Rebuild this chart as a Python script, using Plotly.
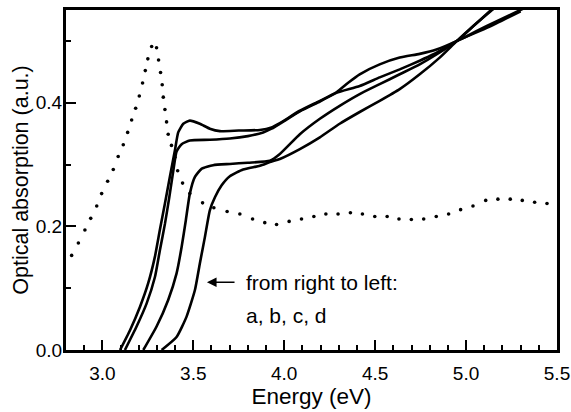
import plotly.graph_objects as go

# Dotted reference curve
dot_x = [2.831, 2.868, 2.904, 2.936, 2.969, 2.996, 3.029, 3.06, 3.087, 3.115, 3.139, 3.161,
         3.183, 3.203, 3.221, 3.236, 3.25, 3.271, 3.298, 3.309, 3.32, 3.329, 3.335, 3.344,
         3.353, 3.362, 3.38, 3.399, 3.414, 3.441, 3.481, 3.551, 3.613, 3.686, 3.756, 3.826,
         3.893, 3.958, 4.027, 4.095, 4.163, 4.229, 4.296, 4.364, 4.43, 4.498, 4.566, 4.631,
         4.699, 4.767, 4.836, 4.904, 4.97, 5.038, 5.108, 5.175, 5.243, 5.309, 5.377, 5.445]
dot_y = [0.153, 0.173, 0.194, 0.213, 0.233, 0.253, 0.273, 0.292, 0.313, 0.332, 0.352, 0.372,
         0.391, 0.411, 0.432, 0.452, 0.471, 0.491, 0.489, 0.469, 0.449, 0.429, 0.409, 0.389,
         0.369, 0.349, 0.331, 0.312, 0.29, 0.27, 0.253, 0.238, 0.23, 0.224, 0.22, 0.212,
         0.206, 0.203, 0.208, 0.212, 0.216, 0.22, 0.22, 0.222, 0.22, 0.216, 0.216, 0.212,
         0.211, 0.212, 0.216, 0.22, 0.227, 0.233, 0.242, 0.244, 0.244, 0.242, 0.239, 0.237]

# Curve d (leftmost)
d_x = [3.097, 3.152, 3.207, 3.252, 3.289, 3.316, 3.344, 3.371, 3.399, 3.417, 3.445, 3.481,
       3.536, 3.591, 3.646, 3.75, 3.866, 3.93, 3.976, 4.086, 4.196, 4.287, 4.35, 4.415,
       4.525, 4.635, 4.745, 4.837, 4.95, 5.12, 5.32]
d_y = [0.0, 0.032, 0.07, 0.108, 0.151, 0.194, 0.237, 0.28, 0.323, 0.352, 0.366, 0.371,
       0.366, 0.358, 0.354, 0.355, 0.356, 0.360, 0.367, 0.387, 0.403, 0.417, 0.432, 0.446,
       0.462, 0.473, 0.479, 0.486, 0.50, 0.525, 0.553]

# Curve c
c_x = [3.124, 3.188, 3.243, 3.289, 3.316, 3.344, 3.368, 3.39, 3.408, 3.436, 3.481, 3.591,
       3.701, 3.80, 3.884, 3.93, 3.976, 4.086, 4.196, 4.287, 4.415, 4.525, 4.635, 4.745,
       4.818, 4.95, 5.12, 5.30]
c_y = [0.0, 0.038, 0.075, 0.118, 0.161, 0.204, 0.247, 0.29, 0.321, 0.333, 0.339, 0.340,
       0.342, 0.346, 0.352, 0.358, 0.366, 0.386, 0.402, 0.416, 0.427, 0.441, 0.454, 0.468,
       0.478, 0.50, 0.522, 0.548]

# Curve b
b_x = [3.225, 3.298, 3.362, 3.408, 3.436, 3.459, 3.481, 3.509, 3.545, 3.609, 3.701, 3.80,
       3.921, 3.976, 4.086, 4.196, 4.305, 4.415, 4.525, 4.635, 4.745, 4.837, 4.95, 5.04,
       5.13, 5.2]
b_y = [0.0, 0.038, 0.081, 0.124, 0.167, 0.21, 0.253, 0.28, 0.293, 0.299, 0.301, 0.303,
       0.306, 0.317, 0.349, 0.374, 0.395, 0.414, 0.43, 0.446, 0.462, 0.478, 0.50, 0.524,
       0.548, 0.566]

# Curve a (rightmost)
a_x = [3.326, 3.408, 3.463, 3.509, 3.536, 3.564, 3.591, 3.619, 3.655, 3.701, 3.774, 3.866,
       3.921, 3.976, 4.086, 4.196, 4.305, 4.415, 4.525, 4.635, 4.745, 4.855, 4.95, 5.04,
       5.135, 5.2]
a_y = [0.0, 0.021, 0.054, 0.097, 0.14, 0.183, 0.226, 0.247, 0.266, 0.281, 0.292, 0.298,
       0.304, 0.309, 0.325, 0.344, 0.366, 0.385, 0.403, 0.422, 0.446, 0.473, 0.50, 0.524,
       0.548, 0.563]

x_ticks = [3.0, 3.5, 4.0, 4.5, 5.0, 5.5]
x_ticklabels = ["3.0", "3.5", "4.0", "4.5", "5.0", "5.5"]
y_ticks = [0.0, 0.2, 0.4]
y_ticklabels = ["0.0", "0.2", "0.4"]

FONT = "Arial, Liberation Sans, Helvetica, sans-serif"

fig = go.Figure()
fig.add_trace(go.Scatter(x=dot_x, y=dot_y, mode="markers",
                         marker=dict(color="black", size=3.6), showlegend=False))
for xs, ys in [(a_x, a_y), (b_x, b_y), (c_x, c_y), (d_x, d_y)]:
    fig.add_trace(go.Scatter(x=xs, y=ys, mode="lines",
                             line=dict(color="black", width=2.6, shape="spline", smoothing=0.5),
                             showlegend=False))

fig.add_annotation(x=3.575, y=0.1097, ax=3.735, ay=0.1097, xref="x", yref="y",
                   axref="x", ayref="y", text="", showarrow=True,
                   arrowhead=2, arrowsize=1.2, arrowwidth=1.6, arrowcolor="black")
fig.add_annotation(x=3.78, y=0.1097, xref="x", yref="y", text="from right to left:",
                   showarrow=False, xanchor="left", yanchor="middle",
                   font=dict(family=FONT, size=21, color="black"))
fig.add_annotation(x=3.78, y=0.0565, xref="x", yref="y", text="a, b, c, d",
                   showarrow=False, xanchor="left", yanchor="middle",
                   font=dict(family=FONT, size=21, color="black"))

fig.update_xaxes(range=[2.8, 5.5], tickvals=x_ticks, ticktext=x_ticklabels,
                 ticks="inside", ticklen=10, tickwidth=2, tickcolor="black",
                 ticklabelstandoff=4, automargin=False,
                 minor=dict(dtick=0.1, tick0=2.8, ticks="inside", ticklen=5, tickwidth=2,
                            tickcolor="black"),
                 showline=True, linewidth=3, linecolor="black", mirror=True,
                 showgrid=False, zeroline=False,
                 tickfont=dict(family=FONT, size=19, color="black"),
                 title=dict(text="Energy (eV)", font=dict(family=FONT, size=22.5, color="black"),
                            standoff=6))
fig.update_yaxes(range=[0, 0.55], tickvals=y_ticks, ticktext=y_ticklabels,
                 ticks="inside", ticklen=10, tickwidth=2, tickcolor="black",
                 ticklabelstandoff=-3, automargin=False,
                 minor=dict(dtick=0.1, tick0=0.0, ticks="inside", ticklen=5, tickwidth=2,
                            tickcolor="black"),
                 showline=True, linewidth=3, linecolor="black", mirror=True,
                 showgrid=False, zeroline=False,
                 tickfont=dict(family=FONT, size=19, color="black"),
                 title=dict(text="Optical absorption (a.u.)",
                            font=dict(family=FONT, size=21.5, color="black"), standoff=2))

fig.update_layout(width=571, height=412, margin=dict(l=66, r=14, t=10, b=62),
                  paper_bgcolor="white", plot_bgcolor="white")

fig.write_html("out.html")
